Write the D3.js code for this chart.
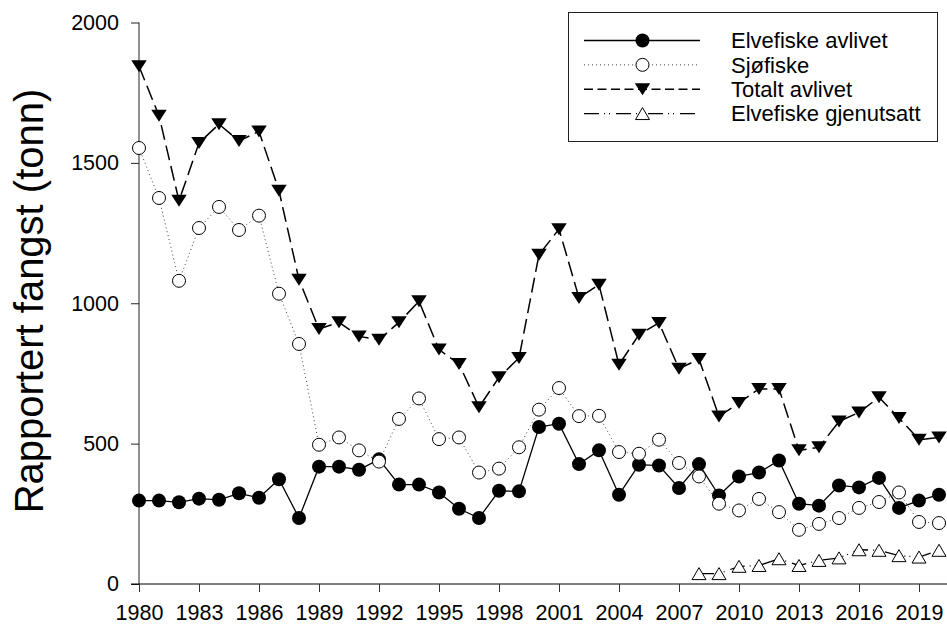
<!DOCTYPE html>
<html>
<head>
<meta charset="utf-8">
<script src="https://cdn.jsdelivr.net/npm/d3@7"></script>
<style>
  html, body { margin: 0; padding: 0; background: #fff; }
  svg { display: block; font-family: "Liberation Sans", Arial, sans-serif; }
</style>
</head>
<body>
<svg id="chart" width="947" height="625"></svg>
<script>
// Reported catch (tonnes) per year
const years = [1980,1981,1982,1983,1984,1985,1986,1987,1988,1989,
               1990,1991,1992,1993,1994,1995,1996,1997,1998,1999,
               2000,2001,2002,2003,2004,2005,2006,2007,2008,2009,
               2010,2011,2012,2013,2014,2015,2016,2017,2018,2019,2020];

const elvefiskeAvlivet = [297,297,291,304,300,323,307,373,235,418,
                          418,407,444,354,354,326,268,235,332,330,
                          559,571,427,476,318,425,422,342,427,315,
                          383,397,440,286,279,351,344,378,271,297,318];

const sjofiske = [1553,1375,1080,1268,1343,1261,1312,1034,855,496,
                  522,476,436,588,661,516,522,397,411,487,
                  621,698,598,599,470,464,514,431,383,286,
                  262,303,256,193,214,235,271,292,326,221,217];

const totaltAvlivet = [1844,1668,1365,1571,1638,1578,1612,1401,1084,908,
                       932,882,870,932,1007,835,784,630,736,805,
                       1173,1264,1019,1066,781,888,930,767,801,597,
                       645,695,695,476,487,579,611,665,591,514,522];

const gjenutsattYears = [2008,2009,2010,2011,2012,2013,2014,2015,2016,2017,2018,2019,2020];
const elvefiskeGjenutsatt = [37,37,63,66,90,66,84,93,122,120,101,96,120];

const xTicks = [1980,1983,1986,1989,1992,1995,1998,2001,2004,2007,2010,2013,2016,2019];
const yTicks = [0,500,1000,1500,2000];

const seriesNames = ["Elvefiske avlivet","Sjøfiske","Totalt avlivet","Elvefiske gjenutsatt"];

const svg = d3.select("#chart");

const x = d3.scaleLinear().domain([1980, 2020]).range([139, 939]);
const y = d3.scaleLinear().domain([0, 2000]).range([584, 22.5]);

// Axes
const yAxis = svg.append("g")
  .attr("transform", "translate(139,0)")
  .call(d3.axisLeft(y).tickValues(yTicks).tickSize(8).tickPadding(12).tickFormat(d3.format("d")));
yAxis.select(".domain").attr("d", `M0,${y(2000)}V${y(0)}`).attr("stroke", "#222");
yAxis.selectAll(".tick line").attr("stroke", "#222");
yAxis.selectAll(".tick text").attr("font-size", 21.5).attr("font-family", "Liberation Sans, Arial, sans-serif").attr("fill", "#000");

const xAxis = svg.append("g")
  .attr("transform", `translate(0,${y(0)})`)
  .call(d3.axisBottom(x).tickValues(xTicks).tickSize(8).tickPadding(13).tickFormat(d3.format("d")));
xAxis.select(".domain").attr("d", "M131,0H947").attr("stroke", "#000");
xAxis.selectAll(".tick line").attr("stroke", "#333");
xAxis.selectAll(".tick text").attr("font-size", 21.5).attr("font-family", "Liberation Sans, Arial, sans-serif").attr("fill", "#000");

// Y axis title
svg.append("text")
  .attr("transform", "translate(43,301) rotate(-90)")
  .attr("text-anchor", "middle")
  .attr("font-size", 40)
  .attr("fill", "#000")
  .text("Rapportert fangst (tonn)");

// Marker helpers
const triDown = (w, h) => `M${-w/2},${-h/2}L${w/2},${-h/2}L0,${h/2}Z`;
const triUp = (w, h) => `M${-w/2},${h/2}L${w/2},${h/2}L0,${-h/2}Z`;

function drawMarker(g, kind, cx, cy) {
  if (kind === "dot") {
    g.append("circle").attr("cx", cx).attr("cy", cy).attr("r", 7).attr("fill", "#000");
  } else if (kind === "ring") {
    g.append("circle").attr("cx", cx).attr("cy", cy).attr("r", 6.5)
      .attr("fill", "#fff").attr("stroke", "#000").attr("stroke-width", 1);
  } else if (kind === "down") {
    g.append("path").attr("d", triDown(15.5, 12)).attr("transform", `translate(${cx},${cy})`)
      .attr("fill", "#000");
  } else if (kind === "up") {
    g.append("path").attr("d", triUp(14, 12)).attr("transform", `translate(${cx},${cy})`)
      .attr("fill", "#fff").attr("stroke", "#000").attr("stroke-width", 1);
  }
}

const series = [
  { name: seriesNames[0], xs: years, vals: elvefiskeAvlivet, marker: "dot",  dash: null,             legendDash: null,             width: 1.3, color: "#000" },
  { name: seriesNames[1], xs: years, vals: sjofiske,         marker: "ring", dash: "1,3",            legendDash: "1,3",            width: 1,   color: "#444" },
  { name: seriesNames[2], xs: years, vals: totaltAvlivet,    marker: "down", dash: "15,6",           legendDash: "9,4.5",          width: 1.5, color: "#000" },
  { name: seriesNames[3], xs: gjenutsattYears, vals: elvefiskeGjenutsatt, marker: "up", dash: "15,5,1,4,1,6", legendDash: "15,5,1,4,1,6", width: 1.3, color: "#000" }
];

const line = d3.line().x(d => x(d[0])).y(d => y(d[1]));

series.forEach(s => {
  const pts = s.xs.map((yr, i) => [yr, s.vals[i]]);
  const g = svg.append("g");
  g.append("path")
    .attr("d", line(pts))
    .attr("fill", "none")
    .attr("stroke", s.color)
    .attr("stroke-width", s.width)
    .attr("stroke-dasharray", s.dash);
  pts.forEach(p => drawMarker(g, s.marker, x(p[0]), y(p[1])));
});

// Legend
const legend = svg.append("g");
legend.append("rect")
  .attr("x", 568.5).attr("y", 12.5).attr("width", 369).attr("height", 129)
  .attr("fill", "#fff").attr("stroke", "#222").attr("stroke-width", 1);

series.forEach((s, i) => {
  const cy = 40.5 + i * 24.35;
  legend.append("line")
    .attr("x1", 584).attr("x2", 700).attr("y1", cy).attr("y2", cy)
    .attr("stroke", s.color).attr("stroke-width", s.width)
    .attr("stroke-dasharray", s.legendDash);
  drawMarker(legend, s.marker, 642.5, cy);
  legend.append("text")
    .attr("x", 731).attr("y", cy + 7.8)
    .attr("font-size", 22)
    .attr("fill", "#000")
    .text(s.name);
});
</script>
</body>
</html>
